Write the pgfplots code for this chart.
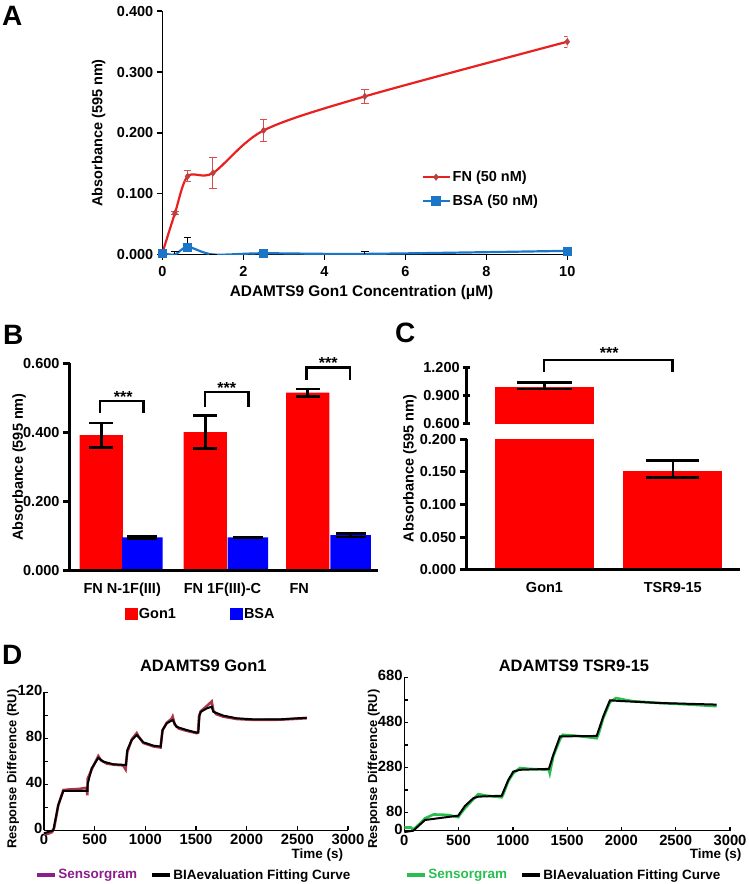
\documentclass[border=0pt]{standalone}
\usepackage{fontspec}
\setmainfont{Liberation Sans}
\usepackage{pgfplots}
\pgfplotsset{compat=1.18}

\definecolor{fnred}{RGB}{232,32,32}
\definecolor{fnmark}{RGB}{185,65,65}
\definecolor{fnerr}{RGB}{220,75,80}
\definecolor{bsablue}{RGB}{28,118,200}
\definecolor{barred}{RGB}{255,0,0}
\definecolor{barblue}{RGB}{0,0,255}
\definecolor{senspurple}{RGB}{140,30,140}
\definecolor{sensred}{RGB}{170,55,75}
\definecolor{sensgreen}{RGB}{40,190,80}

\newcommand{\fs}[1]{\fontsize{#1}{#1}\selectfont\bfseries}

\pgfplotsset{
  base/.style={
    scale only axis, anchor=south west,
    /pgf/number format/assume math mode=true,
    /pgf/number format/1000 sep={},
    scaled ticks=false,
    tick label style={font=\fs{14.5}},
    label style={font=\fs{14.5}},
    axis lines=left,
    axis line style={-},
    tick align=outside,
    tick pos=left,
  },
  fix3/.style={yticklabel style={/pgf/number format/.cd, fixed, fixed zerofill, precision=3}},
}

\begin{document}
\begin{tikzpicture}
\path[use as bounding box] (0,0) rectangle (749pt,884pt);

\node[anchor=base west, inner sep=0pt, font=\fs{28}] at (2pt,858pt) {A};
\node[anchor=base west, inner sep=0pt, font=\fs{28}] at (3pt,539pt) {B};
\node[anchor=base west, inner sep=0pt, font=\fs{28}] at (395pt,541pt) {C};
\node[anchor=base west, inner sep=0pt, font=\fs{28}] at (2pt,219pt) {D};

% ---------------- Panel A ----------------
\begin{axis}[base, fix3, at={(162.3pt,629.5pt)}, width=405pt, height=243.2pt,
  xmin=0, xmax=10, ymin=0, ymax=0.4,
  xtick={0,2,4,6,8,10}, ytick={0,0.1,0.2,0.3,0.4},
  xticklabel style={yshift=-2.5pt},
  axis line style={line width=1.6pt},
  tick style={line width=1.6pt, black},
  major tick length=5.5pt,
  xlabel={ADAMTS9 Gon1 Concentration (μM)},
  ylabel={Absorbance (595 nm)},
  xlabel style={font=\fs{15.4}, at={(axis description cs:0.492,-0.158)}, anchor=center},
  ylabel style={at={(axis description cs:-0.157,0.5)}, anchor=center},
  legend style={draw=none, fill=none, at={(axis description cs:0.632,0.2685)}, anchor=west, font=\fs{14.5}, row sep=8pt},
  legend cell align=left,
  legend image code/.code={\draw[mark repeat=2, mark phase=2, #1] plot coordinates {(0pt,0pt) (13.5pt,0pt) (27pt,0pt)};},
]
\addplot[fnred, line width=2.2pt, smooth, mark=diamond*, mark size=3.3pt,
  mark options={draw=fnmark, fill=fnmark, solid, line width=0.4pt},
  error bars/.cd, y dir=both, y explicit,
  error bar style={fnerr, line width=1pt},
  error mark options={fnerr, rotate=90, mark size=3.8pt, line width=1pt}]
  table[x=x, y=y, y error=e] {
x y e
0 0.002 0
0.3125 0.068 0.003
0.625 0.1285 0.009
1.25 0.134 0.025
2.5 0.204 0.018
5 0.260 0.012
10 0.350 0.009
};
\addlegendentry{FN (50 nM)}
\addplot[bsablue, line width=2.2pt, smooth, forget plot, mark=square*, mark size=4pt,
  mark options={draw=bsablue, fill=bsablue, solid, line width=0.4pt}, mark indices={1,3,5,7},
  error bars/.cd, y dir=plus, y explicit,
  error bar style={black, line width=1pt},
  error mark options={black, rotate=90, mark size=3.8pt, line width=1pt}]
  table[x=x, y=y, y error=e] {
x y e
0 0.002 0
0.3125 0.000 0.005
0.625 0.0125 0.015
1.25 0.000 0
2.5 0.002 0
5 0.001 0.004
10 0.006 0
};
\addlegendimage{bsablue, line width=2.2pt, mark=square*, mark size=4pt, mark options={draw=bsablue, fill=bsablue, solid}}
\addlegendentry{BSA (50 nM)}
\end{axis}

% ---------------- Panel B ----------------
\begin{axis}[base, fix3, at={(70pt,313.3pt)}, width=308pt, height=207.4pt,
  xmin=0, xmax=308, ymin=0, ymax=0.6,
  ytick={0,0.2,0.4,0.6},
  xtick={52.2,152.5,229.2}, xticklabels={FN N-1F(III),FN 1F(III)-C,FN},
  xtick style={draw=none}, xticklabel style={yshift=-2pt},
  axis line style={line width=3pt},
  ytick style={line width=3pt, black},
  major tick length=7pt,
  axis on top, clip=false,
  ylabel={Absorbance (595 nm)},
  ylabel style={at={(axis description cs:-0.165,0.5)}, anchor=center},
  legend columns=2,
  legend style={draw=none, fill=none, at={(axis description cs:0.168,-0.208)}, anchor=west, font=\fs{14.5},
    /tikz/every even column/.append style={column sep=52pt}},
]
\addplot[ybar, bar width=43.3, bar shift=0pt, fill=barred, draw=none, forget plot,
  error bars/.cd, y dir=both, y explicit,
  error bar style={black, line width=2.6pt},
  error mark options={black, rotate=90, mark size=12pt, line width=2.6pt}]
  table[x=x, y=y, y error=e] {
x y e
31.3 0.392 0.035
135.3 0.401 0.048
237.7 0.515 0.011
};
\addplot[ybar, bar width=40.5, bar shift=0pt, fill=barblue, draw=none, forget plot,
  error bars/.cd, y dir=both, y explicit,
  error bar style={black, line width=2.6pt},
  error mark options={black, rotate=90, mark size=15pt, line width=2.6pt}]
  table[x=x, y=y, y error=e] {
x y e
72.3 0.0965 0.004
177.8 0.0965 0.0015
280.5 0.103 0.005
};
\addlegendimage{legend image code/.code={\fill[barred] (0pt,-5.8pt) rectangle (11.6pt,5.8pt);}}
\addlegendentry{Gon1}
\addlegendimage{legend image code/.code={\fill[barblue] (0pt,-5.8pt) rectangle (11.6pt,5.8pt);}}
\addlegendentry{BSA}
\draw[line width=2.6pt] (axis cs:30,0.457) -- (axis cs:30,0.491) -- (axis cs:73.3,0.491) -- (axis cs:73.3,0.457);
\draw[line width=2.6pt] (axis cs:135,0.474) -- (axis cs:135,0.517) -- (axis cs:178.3,0.517) -- (axis cs:178.3,0.474);
\draw[line width=2.6pt] (axis cs:236.7,0.553) -- (axis cs:236.7,0.588) -- (axis cs:280,0.588) -- (axis cs:280,0.553);
\node[anchor=base, inner sep=0pt, font=\fs{16}] at (axis cs:53.3,0.487) {***};
\node[anchor=base, inner sep=0pt, font=\fs{16}] at (axis cs:156.7,0.513) {***};
\node[anchor=base, inner sep=0pt, font=\fs{16}] at (axis cs:258.3,0.584) {***};
\end{axis}

% ---------------- Panel C (lower) ----------------
\begin{axis}[base, fix3, at={(466.7pt,314pt)}, width=273.3pt, height=130.7pt,
  xmin=0, xmax=273.3, ymin=0, ymax=0.2,
  ytick={0,0.05,0.1,0.15,0.2},
  xtick={77.8,206.1}, xticklabels={Gon1,TSR9-15}, xtick style={draw=none}, xticklabel style={yshift=-2pt},
  axis line style={line width=3pt}, ytick style={line width=3pt, black}, major tick length=7pt,
  axis on top,
  ylabel={Absorbance (595 nm)},
  ylabel style={at={(axis description cs:-0.2075,0.777)}, anchor=center},
]
\addplot[ybar, bar width=99, bar shift=0pt, fill=barred, draw=none] coordinates {(77.8,0.988)};
\addplot[ybar, bar width=99, bar shift=0pt, fill=barred, draw=none,
  error bars/.cd, y dir=both, y explicit,
  error bar style={black, line width=2.6pt},
  error mark options={black, rotate=90, mark size=26.5pt, line width=2.6pt}]
  table[x=x, y=y, y error plus=ep, y error minus=em] {
x y ep em
206.1 0.152 0.016 0.010
};
\end{axis}

% ---------------- Panel C (upper) ----------------
\begin{axis}[base, fix3, at={(466.7pt,460pt)}, width=273.3pt, height=56.7pt,
  xmin=0, xmax=273.3, ymin=0.6, ymax=1.2,
  ytick={0.6,0.9,1.2},
  axis x line=none, axis y line=left,
  axis line style={line width=3pt, -}, y axis line style={-},
  ytick style={line width=3pt, black}, major tick length=7pt,
]
\addplot[ybar, bar width=99, bar shift=0pt, fill=barred, draw=none,
  error bars/.cd, y dir=both, y explicit,
  error bar style={black, line width=2.6pt},
  error mark options={black, rotate=90, mark size=27.5pt, line width=2.6pt}]
  table[x=x, y=y, y error plus=ep, y error minus=em] {
x y ep em
77.8 0.988 0.049 0.018
};
\coordinate (c1) at (axis cs:77.3,1.153);
\coordinate (c2) at (axis cs:77.3,1.277);
\coordinate (c3) at (axis cs:206,1.277);
\coordinate (c4) at (axis cs:206,1.153);
\coordinate (cs) at (axis cs:142.6,1.295);
\end{axis}
\draw[line width=2.6pt] (c1) -- (c2) -- (c3) -- (c4);
\node[anchor=base, inner sep=0pt, font=\fs{16}] at (cs) {***};

% ---------------- Panel D (left) ----------------
\begin{axis}[base, at={(44pt,53.7pt)}, width=304pt, height=138pt,
  xmin=0, xmax=3000, ymin=0, ymax=120,
  xtick={0,500,1000,1500,2000,2500,3000}, ytick={0,40,80,120}, minor ytick={20,60,100},
  tick align=inside,
  axis line style={line width=1.5pt}, tick style={line width=1.3pt, black},
  major tick length=4pt, minor tick length=4pt,
  tick label style={font=\fs{14.8}},
  yticklabel style={inner xsep=1.5pt, yshift=1.5pt},
  xticklabel style={inner ysep=1pt, yshift=-3pt},
  clip=false,
  title={ADAMTS9 Gon1}, title style={font=\fs{16.5}, at={(axis description cs:0.524,1.149)}, anchor=center},
  xlabel={Time (s)}, xlabel style={font=\fs{13.5}, at={(axis description cs:0.9957,-0.179)}, anchor=east},
  ylabel={Response Difference (RU)}, ylabel style={font=\fs{12.9}, at={(axis description cs:-0.102,0.444)}, anchor=center},
  legend columns=2,
  legend style={draw=none, fill=none, at={(axis description cs:-0.0395,-0.324)}, anchor=west, font=\fs{13.5},
    /tikz/every even column/.append style={column sep=11pt}},
  legend image code/.code={\draw[#1] (0pt,0pt) -- (18pt,0pt);},
]
\addplot[sensred, line width=2.6pt, forget plot] coordinates {
(0,-3.5) (40,-3) (80,-1.5) (100,2) (141,22) (191,35) (250,35.5) (350,36) (420,37)
(428,30.5) (432,45) (471,53) (536,64.5) (560,61) (620,58) (700,57) (780,56.5)
(805,53) (812,60) (822,68) (866,79) (915,84.5) (930,82) (980,76) (1079,73) (1150,72)
(1160,80) (1170,87) (1211,93.5) (1260,97) (1270,98.8) (1290,92) (1330,88.5) (1408,86.5) (1507,84.5)
(1520,86) (1530,99) (1547,103.5) (1606,108) (1655,112) (1671,104) (1700,101) (1770,98.8)
(1902,96.8) (2066,96) (2330,96.2) (2500,97) (2593,97.5)
};
\addplot[black, line width=2pt, forget plot] coordinates {
(0,-2.6) (92,0) (141,22) (191,34.2) (428,34.2) (430,40) (471,54) (536,63) (586,59.7) (684,57.4) (809,56.8)
(822,69.8) (866,78.5) (915,82.9) (980,76.5) (1079,73.6) (1152,72.8)
(1170,87.2) (1211,93) (1270,95.9) (1307,90) (1408,87.2) (1507,84.9)
(1523,85) (1535,100) (1547,103) (1606,106) (1655,107.5) (1671,103.1) (1770,99.7) (1902,97.4) (2066,96.5) (2330,96.5) (2593,97.9)
};
\addlegendimage{senspurple, line width=3.2pt}
\addlegendentry{\textcolor{senspurple}{Sensorgram}}
\addlegendimage{black, line width=3.2pt}
\addlegendentry{BIAevaluation Fitting Curve}
\end{axis}

% ---------------- Panel D (right) ----------------
\begin{axis}[base, at={(404.3pt,53.3pt)}, width=325.7pt, height=153.4pt,
  xmin=0, xmax=3000, ymin=0, ymax=680,
  xtick={0,500,1000,1500,2000,2500,3000}, ytick={0,80,280,480,680}, minor ytick={180,380,580},
  tick align=inside,
  axis line style={line width=1.5pt}, tick style={line width=1.3pt, black},
  major tick length=4pt, minor tick length=4pt,
  tick label style={font=\fs{14.8}},
  yticklabel style={inner xsep=1.5pt, yshift=1.5pt},
  xticklabel style={inner ysep=1pt, yshift=-3pt},
  clip=false,
  title={ADAMTS9 TSR9-15}, title style={font=\fs{16.5}, at={(axis description cs:0.521,1.036)}, anchor=center},
  xlabel={Time (s)}, xlabel style={font=\fs{13.5}, at={(axis description cs:1.046,-0.158)}, anchor=east},
  ylabel={Response Difference (RU)}, ylabel style={font=\fs{12.9}, at={(axis description cs:-0.094,0.402)}, anchor=center},
  legend columns=2,
  legend style={draw=none, fill=none, at={(axis description cs:-0.007,-0.289)}, anchor=west, font=\fs{13.5},
    /tikz/every even column/.append style={column sep=11pt}},
  legend image code/.code={\draw[#1] (0pt,0pt) -- (18pt,0pt);},
]
\addplot[sensgreen, line width=2.6pt, forget plot] coordinates {
(0,14) (60,14) (83,5) (140,30) (191,55) (270,72) (400,70) (497,60) (510,70) (559,100) (636,140) (682,162)
(760,155) (897,148) (910,160) (958,220) (1004,255) (1066,278) (1150,274) (1332,270) (1340,255)
(1372,330) (1434,405) (1460,425) (1600,420) (1772,410) (1790,430) (1833,500) (1894,570) (1950,588)
(2100,574) (2355,566) (2600,560) (2877,552)
};
\addplot[black, line width=2pt, forget plot] coordinates {
(0,-6) (83,0) (191,47.5) (497,66.7) (559,110) (636,144) (682,151) (897,155) (958,225) (1004,262) (1066,270)
(1332,274) (1372,336) (1434,418) (1772,420) (1833,507) (1894,578) (1986,575) (2355,566) (2877,559)
};
\addlegendimage{sensgreen, line width=3.2pt}
\addlegendentry{\textcolor{sensgreen}{Sensorgram}}
\addlegendimage{black, line width=3.2pt}
\addlegendentry{BIAevaluation Fitting Curve}
\end{axis}
\end{tikzpicture}
\end{document}
